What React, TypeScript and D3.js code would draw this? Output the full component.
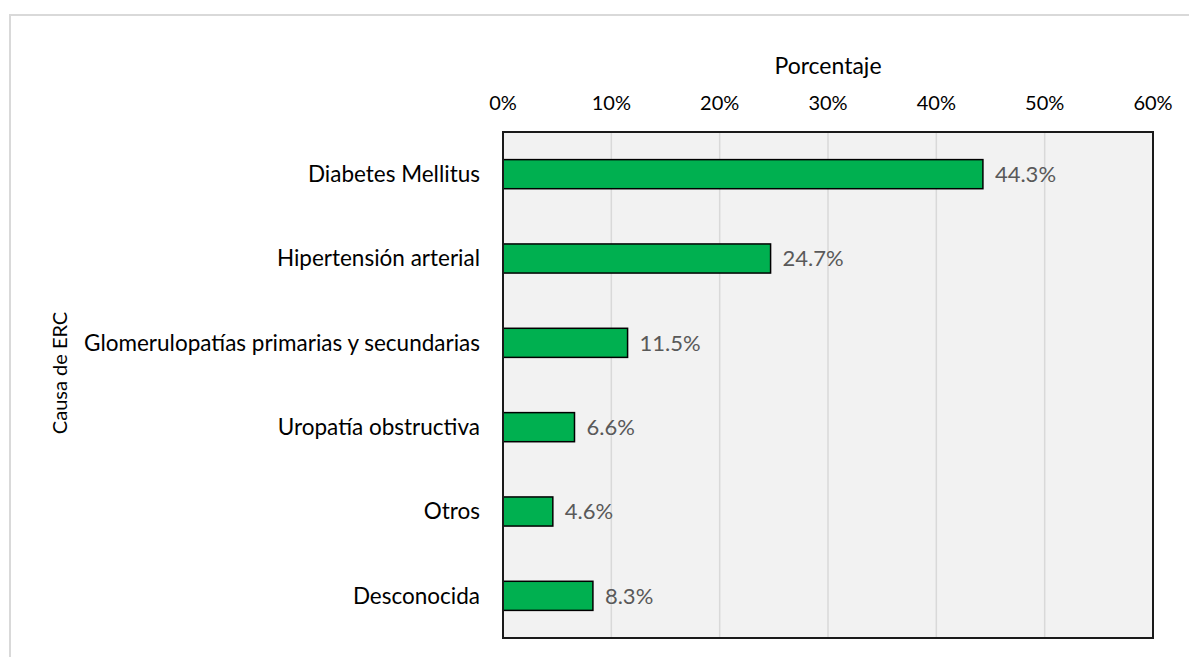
import React from "react";
import * as d3 from "d3";

const categories = [
  "Diabetes Mellitus",
  "Hipertensión arterial",
  "Glomerulopatías primarias y secundarias",
  "Uropatía obstructiva",
  "Otros",
  "Desconocida",
];
const values = [44.3, 24.7, 11.5, 6.6, 4.6, 8.3];
const xTicks = [0, 10, 20, 30, 40, 50, 60];
const xTitle = "Porcentaje";
const yTitle = "Causa de ERC";

const W = 1189;
const H = 657;
const plot = { left: 503, right: 1153, top: 132, bottom: 638 };
const FONT = "Lato, 'Open Sans', sans-serif";

export default function App() {
  const x = d3.scaleLinear().domain([0, 60]).range([plot.left, plot.right]);
  const y = d3
    .scaleBand<string>()
    .domain(categories)
    .range([plot.top, plot.bottom])
    .paddingInner(0.655)
    .paddingOuter(0.3275);

  return (
    <svg
      width={W}
      height={H}
      style={{ position: "absolute", left: 0, top: 0, background: "#fff" }}
      fontFamily={FONT}
    >
      {/* outer chart border */}
      <rect x={10} y={15} width={W + 20} height={H + 20} fill="none" stroke="#d9d9d9" strokeWidth={2} />

      {/* plot background */}
      <rect
        x={plot.left}
        y={plot.top}
        width={plot.right - plot.left}
        height={plot.bottom - plot.top}
        fill="#f2f2f2"
      />
      {/* gridlines */}
      {xTicks.slice(1, -1).map((t) => (
        <line
          key={t}
          x1={x(t)}
          x2={x(t)}
          y1={plot.top}
          y2={plot.bottom}
          stroke="#d9d9d9"
          strokeWidth={1.5}
        />
      ))}
      {/* bars */}
      {categories.map((c, i) => (
        <rect
          key={c}
          x={x(0)}
          y={y(c)!}
          width={x(values[i]) - x(0)}
          height={y.bandwidth()}
          fill="#00b050"
          stroke="#000"
          strokeWidth={1.5}
        />
      ))}
      {/* plot border */}
      <rect
        x={plot.left}
        y={plot.top}
        width={plot.right - plot.left}
        height={plot.bottom - plot.top}
        fill="none"
        stroke="#1a1a1a"
        strokeWidth={2}
      />
      {/* value labels */}
      {categories.map((c, i) => (
        <text
          key={c}
          x={x(values[i]) + 12}
          y={y(c)! + y.bandwidth() / 2}
          dy="0.35em"
          fontSize={22}
          fill="#595959"
        >
          {values[i].toFixed(1)}%
        </text>
      ))}
      {/* category labels */}
      {categories.map((c) => (
        <text
          key={c}
          x={480}
          y={y(c)! + y.bandwidth() / 2}
          dy="0.35em"
          textAnchor="end"
          fontSize={22.5}
          fill="#000"
        >
          {c}
        </text>
      ))}
      {/* x tick labels */}
      {xTicks.map((t) => (
        <text key={t} x={x(t)} y={103} dy="0.35em" textAnchor="middle" fontSize={20} fill="#000">
          {t}%
        </text>
      ))}
      {/* axis titles */}
      <text x={(plot.left + plot.right) / 2} y={66} dy="0.35em" textAnchor="middle" fontSize={23} fill="#000">
        {xTitle}
      </text>
      <text
        transform={`translate(60,373) rotate(-90)`}
        dy="0.35em"
        textAnchor="middle"
        fontSize={20}
        fill="#000"
      >
        {yTitle}
      </text>
    </svg>
  );
}
